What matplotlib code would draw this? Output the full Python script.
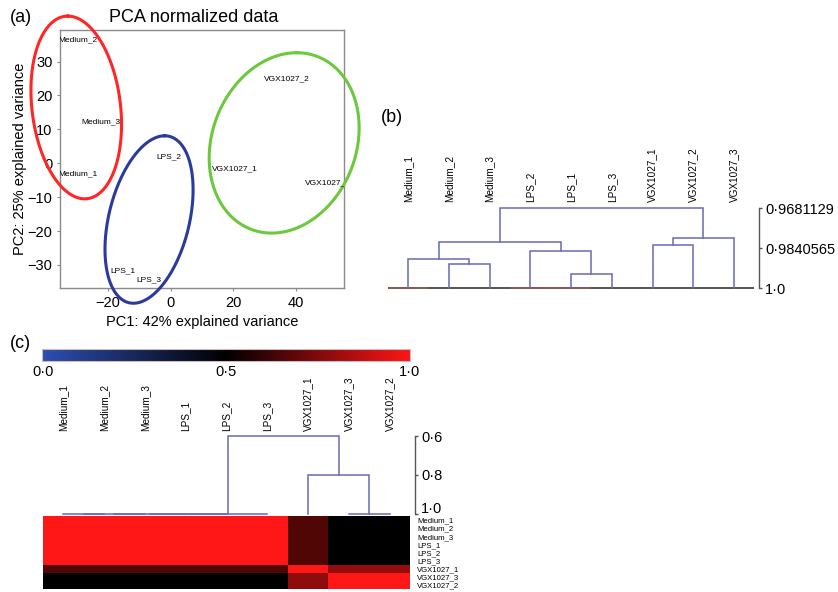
import numpy as np
import matplotlib
matplotlib.use('Agg')
import matplotlib.pyplot as plt
from matplotlib.colors import LinearSegmentedColormap
import matplotlib.transforms as mtransforms

plt.rcParams['font.family'] = ['Liberation Sans', 'DejaVu Sans']

W, H = 838, 592

# ---------------- data ----------------
# (a) PCA
pca_labels = ['Medium_1', 'Medium_2', 'Medium_3', 'LPS_1', 'LPS_2', 'LPS_3',
              'VGX1027_1', 'VGX1027_2', 'VGX1027_3']
pca_pc1 = [-29.7, -29.7, -22.3, -15.3, -0.5, -6.9, 20.6, 37.2, 50.3]
pca_pc2 = [-3.2, 36.4, 12.1, -31.6, 1.9, -34.3, -1.7, 24.9, -5.8]
ell_cx = [-30.2, -6.9, 36.35]
ell_cy = [16.45, -16.6, 6.0]
ell_rx = [14.5, 14.1, 24.0]
ell_ry = [26.95, 24.7, 26.6]
ell_skew = [-2.7, 5.0, 4.0]
ell_colors = ['#ff2626', '#2a3a9e', '#6cc83c']

# (b) correlation dendrogram
b_leaves = ['Medium_1', 'Medium_2', 'Medium_3', 'LPS_2', 'LPS_1', 'LPS_3',
            'VGX1027_1', 'VGX1027_2', 'VGX1027_3']
b_left = [1, 0, 4, 3, 10, 6, 14, 13]
b_right = [2, 9, 5, 11, 12, 7, 8, 15]
b_height = [0.99032, 0.98856, 0.99430, 0.98513, 0.98155, 0.98274, 0.98007, 0.9681129]
b_ticks = [0.9681129, 0.9840565, 1.0]
b_ticklabels = ['0\u00b79681129', '0\u00b79840565', '1\u00b70']

# (c) heatmap + dendrogram
c_labels = ['Medium_1', 'Medium_2', 'Medium_3', 'LPS_1', 'LPS_2', 'LPS_3',
            'VGX1027_1', 'VGX1027_3', 'VGX1027_2']
c_left = [0, 9, 10, 11, 12, 7, 6, 13]
c_right = [1, 2, 3, 4, 5, 8, 14, 15]
c_height = [1.0, 1.0, 1.0, 1.0, 1.0, 1.0, 0.8, 0.6]
c_ticks = [0.6, 0.8, 1.0]
c_ticklabels = ['0\u00b76', '0\u00b78', '1\u00b70']
heat = [
    [1.0, 1.0, 1.0, 1.0, 1.0, 1.0, 0.66, 0.5, 0.5],
    [1.0, 1.0, 1.0, 1.0, 1.0, 1.0, 0.66, 0.5, 0.5],
    [1.0, 1.0, 1.0, 1.0, 1.0, 1.0, 0.66, 0.5, 0.5],
    [1.0, 1.0, 1.0, 1.0, 1.0, 1.0, 0.66, 0.5, 0.5],
    [1.0, 1.0, 1.0, 1.0, 1.0, 1.0, 0.66, 0.5, 0.5],
    [1.0, 1.0, 1.0, 1.0, 1.0, 1.0, 0.66, 0.5, 0.5],
    [0.66, 0.66, 0.66, 0.66, 0.66, 0.66, 1.0, 0.79, 0.79],
    [0.5, 0.5, 0.5, 0.5, 0.5, 0.5, 0.78, 1.0, 1.0],
    [0.5, 0.5, 0.5, 0.5, 0.5, 0.5, 0.78, 1.0, 1.0],
]
cbar_ticks = [0.0, 0.5, 1.0]
cbar_ticklabels = ['0\u00b70', '0\u00b75', '1\u00b70']

# ---------------- helpers ----------------
fig = plt.figure(figsize=(W / 100, H / 100), dpi=100)


def rect(l, t, r, b):
    return [l / W, 1 - b / H, (r - l) / W, (b - t) / H]


def ftext(x, y, s, **kw):
    fig.text(x / W, 1 - y / H, s, **kw)


DCOL = '#6a6ab4'


def draw_dendro(ax, left, right, height, n, base):
    pos = {i: float(i) for i in range(n)}
    hgt = {i: base for i in range(n)}
    k = n
    for a, b, h in zip(left, right, height):
        xa, xb = pos[a], pos[b]
        ax.plot([xa, xa, xb, xb], [hgt[a], h, h, hgt[b]], color=DCOL, lw=1.1,
                clip_on=False, solid_joinstyle='miter')
        pos[k] = (xa + xb) / 2
        hgt[k] = h
        k += 1


def right_axis(ax, ticks, labels, fs):
    for s in ['left', 'top', 'bottom']:
        ax.spines[s].set_visible(False)
    ax.spines['right'].set_color('#555555')
    ax.spines['right'].set_linewidth(1.0)
    ax.spines['right'].set_bounds(min(ticks), max(ticks))
    ax.yaxis.tick_right()
    ax.set_yticks(ticks)
    ax.set_yticklabels(labels, fontsize=fs)
    ax.tick_params(axis='y', direction='out', length=2.5, width=1.0,
                   color='#555555', pad=2)
    ax.set_xticks([])
    ax.patch.set_alpha(0)


# ---------------- (a) PCA ----------------
ax = fig.add_axes(rect(60, 30, 344, 288))
ax.set_xlim(-35.4, 55.5)
ax.set_ylim(-36.8, 39.3)
for s in ax.spines.values():
    s.set_color('#8a8a8a')
    s.set_linewidth(1.0)
ax.set_xticks([-20, 0, 20, 40])
ax.set_yticks([-30, -20, -10, 0, 10, 20, 30])
ax.set_xticklabels(['\u221220', '0', '20', '40'])
ax.set_yticklabels(['\u221230', '\u221220', '\u221210', '0', '10', '20', '30'])
ax.tick_params(labelsize=10.5, length=2.5, color='#8a8a8a', pad=3)
t = np.linspace(0, 2 * np.pi, 300)
for cx, cy, rx, ry, sk, col in zip(ell_cx, ell_cy, ell_rx, ell_ry, ell_skew, ell_colors):
    bb = np.sqrt(rx ** 2 - sk ** 2)
    ax.plot(cx + sk * np.cos(t) + bb * np.sin(t), cy + ry * np.cos(t),
            color=col, lw=2.2, clip_on=False, zorder=3)
for lab, x, y in zip(pca_labels, pca_pc1, pca_pc2):
    ax.text(x, y, lab, fontsize=6, ha='center', va='center', clip_on=True, zorder=4)
ax.set_xlabel('PC1: 42% explained variance', fontsize=10.5, labelpad=4)
ax.set_ylabel('PC2: 25% explained variance', fontsize=10.5, labelpad=0)
ftext(194, 17, 'PCA normalized data', fontsize=13, ha='center', va='center')
ftext(10, 17, '(a)', fontsize=13, ha='left', va='center')

# ---------------- (b) dendrogram ----------------
axb = fig.add_axes(rect(388, 208, 759, 288))
step_b = 40.75
axb.set_xlim((388 - 408) / step_b, (759 - 408) / step_b)
axb.set_ylim(1.0, 0.9681129)
right_axis(axb, b_ticks, b_ticklabels, 10.5)
# baseline at leaf level
base_cols = ['#7a4a40', '#4a4444', '#4a4444', '#7a4a40', '#7a4a40', '#4a4444',
             '#4a4444', '#4a4444', '#4a4444']
for i, c in enumerate(base_cols):
    x0 = max(i - 0.5, (388 - 408) / step_b)
    x1 = min(i + 0.5, (757 - 408) / step_b)
    axb.plot([x0, x1], [1.0, 1.0], color=c, lw=1.3, clip_on=False, zorder=1,
             solid_capstyle='butt')
draw_dendro(axb, b_left, b_right, b_height, len(b_leaves), 1.0)
trb = mtransforms.blended_transform_factory(axb.transData, axb.transAxes)
for i, lab in enumerate(b_leaves):
    axb.text(i, (288 - 202) / 80, lab, transform=trb, rotation=90, fontsize=7.2,
             ha='left', va='center', rotation_mode='anchor', clip_on=False)
ftext(381, 117, '(b)', fontsize=13, ha='left', va='center')

# ---------------- (c) heatmap ----------------
cmap = LinearSegmentedColormap.from_list('bkr', ['#2d4fb2', '#000000', '#ff1616'])

axcb = fig.add_axes(rect(42, 349, 410, 361))
axcb.imshow(np.linspace(0, 1, 256)[None, :], aspect='auto', cmap=cmap,
            extent=(0, 1, 0, 1), vmin=0, vmax=1)
axcb.set_xticks([])
axcb.set_yticks([])
for s in axcb.spines.values():
    s.set_color('#d0b8c0')
    s.set_linewidth(0.8)
for v, lab in zip(cbar_ticks, cbar_ticklabels):
    ftext(43 + v * (409 - 43), 372, lab, fontsize=10.5, ha='center', va='center')
ftext(10, 343, '(c)', fontsize=13, ha='left', va='center')

axh = fig.add_axes(rect(43, 516, 410, 589))
axh.imshow(np.array(heat), cmap=cmap, vmin=0, vmax=1, aspect='auto',
           interpolation='nearest')
axh.set_xticks([])
axh.yaxis.tick_right()
axh.set_yticks(range(len(c_labels)))
axh.set_yticklabels(c_labels, fontsize=5.6)
axh.tick_params(axis='y', length=0, pad=5)
for s in axh.spines.values():
    s.set_visible(False)

step_c = (410 - 43) / 9
axd = fig.add_axes(rect(43, 436, 415, 514))
axd.set_xlim(-0.5, -0.5 + (415 - 43) / step_c)
axd.set_ylim(1.0, 0.6)
right_axis(axd, c_ticks, c_ticklabels, 10.5)
# nudge the bottom tick label up a little so it clears the row labels
lbl = axd.get_yticklabels()[-1]
lbl.set_verticalalignment('baseline')
lbl.set_transform(lbl.get_transform() +
                  mtransforms.ScaledTranslation(0, 1.0 / 100, fig.dpi_scale_trans))
draw_dendro(axd, c_left, c_right, c_height, len(c_labels), 1.0)
trc = mtransforms.blended_transform_factory(axd.transData, axd.transAxes)
for i, lab in enumerate(c_labels):
    axd.text(i, (514 - 431) / 78, lab, transform=trc, rotation=90, fontsize=7.2,
             ha='left', va='center', rotation_mode='anchor', clip_on=False)

fig.savefig('out.png', dpi=100)
